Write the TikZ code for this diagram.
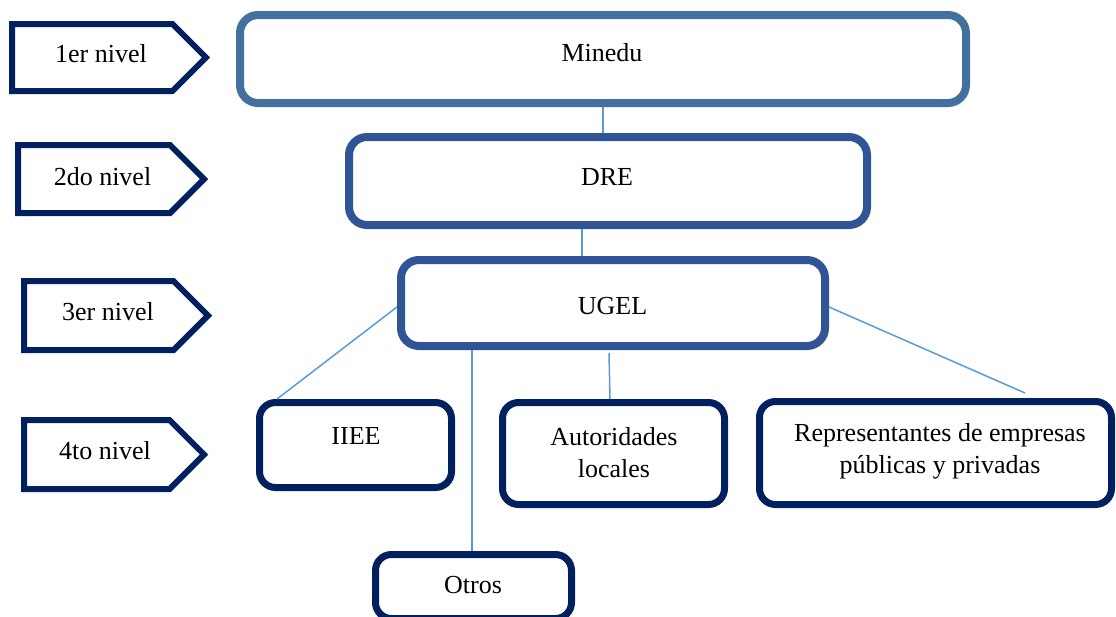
\documentclass[tikz,border=0pt]{standalone}
\usepackage{fontspec}
\setmainfont{Liberation Serif}
\usetikzlibrary{calc}
\definecolor{navy}{HTML}{002060}
\definecolor{steel}{HTML}{41719C}
\definecolor{midblue}{HTML}{2F5597}
\definecolor{connc}{HTML}{5B9BD5}
\tikzset{
  topbox/.style={draw, fill=white, rounded corners=9pt, line width=4pt, inner sep=0pt},
  lowbox/.style={draw=navy, fill=white, rounded corners=8pt, line width=3.5pt, inner sep=0pt},
  lvlshape/.style={draw=navy, fill=white, line width=3pt, line join=miter},
  txt/.style={anchor=base, font=\fontsize{13}{16}\selectfont, inner sep=0pt, align=center},
  connline/.style={draw=connc, line width=0.75pt},
}
\begin{document}
\begin{tikzpicture}[x=0.5pt, y=-0.5pt]
\useasboundingbox (0,0) rectangle (1116,617);
\clip (0,0) rectangle (1116,617);

% level markers
\draw[lvlshape] (12,24) -- (172.5,24) -- (206,57.5) -- (172.5,91) -- (12,91) -- cycle;
\draw[lvlshape] (18,145) -- (170,145) -- (204,179) -- (170,213) -- (18,213) -- cycle;
\draw[lvlshape] (24,281) -- (173.5,281) -- (208,315.5) -- (173.5,350) -- (24,350) -- cycle;
\draw[lvlshape] (24,420) -- (169.5,420) -- (204,454.5) -- (169.5,489) -- (24,489) -- cycle;
\node[txt] (l1) at (101,62) {1er nivel};
\node[txt] (l2) at (102.5,185) {2do nivel};
\node[txt] (l3) at (108,320) {3er nivel};
\node[txt] (l4) at (105,459) {4to nivel};

% boxes
\node[topbox, draw=steel, minimum width=363pt, minimum height=44pt] (minedu) at (603,59) {};
\node[topbox, draw=midblue, minimum width=259pt, minimum height=44pt] (dre) at (608,181) {};
\node[topbox, draw=midblue, minimum width=212pt, minimum height=43pt] (ugel) at (613,303) {};
\node[lowbox, minimum width=96pt, minimum height=42.5pt] (iiee) at (355.5,445) {};
\node[lowbox, minimum width=111pt, minimum height=51pt] (auto) at (613.5,453.5) {};
\node[lowbox, minimum width=176pt, minimum height=51.5pt] (rep) at (935.5,453) {};
\node[lowbox, minimum width=98pt, minimum height=32pt] (otros) at (473.5,586.5) {};

% connectors
\coordinate (c1) at (582,0);
\coordinate (c2) at (472,0);
\coordinate (c3) at (609,0);
\coordinate (c4) at (610,0);
\coordinate (rend) at (1025,393);
\draw[connline] (minedu.south) -- (minedu.south |- dre.north);
\draw[connline] (dre.south -| c1) -- (ugel.north -| c1);
\draw[connline] ($(ugel.west)+(0,4)$) -- ($(iiee.north west)+(21,0)$);
\draw[connline] (ugel.south -| c2) -- (otros.north -| c2);
\draw[connline] ($(ugel.south -| c3)+(0,3)$) -- (auto.north -| c4);
\draw[connline] ($(ugel.east)+(0,4)$) -- (rend);

% texts
\node[txt] (tminedu) at (602,61) {Minedu};
\node[txt] (tdre) at (607,185) {DRE};
\node[txt] (tugel) at (612.5,314) {UGEL};
\node[txt] (tiiee) at (356,444) {IIEE};
\node[txt] (tauto) at (614,477) {Autoridades\\locales};
\node[txt] (trep) at (940,473) {Representantes de empresas\\públicas y privadas};
\node[txt] (totros) at (473,593) {Otros};
\end{tikzpicture}
\end{document}
